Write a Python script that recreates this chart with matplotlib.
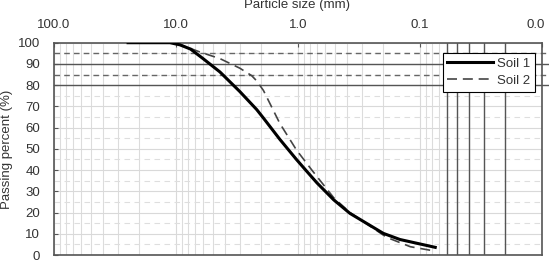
import numpy as np
import matplotlib
matplotlib.use("Agg")
import matplotlib.pyplot as plt
import matplotlib.transforms as mtransforms
from matplotlib.ticker import LogLocator, NullFormatter

# data (particle size in mm, passing %)
size_1 = [24.7, 11.2, 9.3, 7.6, 6.0, 4.36, 3.0, 2.18, 1.92, 1.41, 1.03, 0.85, 0.70, 0.51, 0.375, 0.2, 0.146, 0.075]
pass_1 = [100, 100, 99, 97, 92.5, 86.2, 77, 68.5, 64.5, 54.5, 45, 39.5, 34, 26, 19.6, 10.2, 7.3, 3.6]

size_2 = [24.7, 11.2, 9.3, 6.36, 4.36, 3.0, 2.4, 2.18, 1.92, 1.41, 1.03, 0.77, 0.51, 0.375, 0.2, 0.178, 0.12, 0.078]
pass_2 = [100, 100, 99.2, 95.6, 92.5, 88, 84.5, 82, 77.5, 62, 49.5, 40, 27, 20, 9.4, 7.8, 3.9, 2.0]

x_major = [100, 10, 1, 0.1, 0.01]
x_labels = ["100.0", "10.0", "1.0", "0.1", "0.0"]
y_ticks = np.arange(0, 101, 10)

h_solid = [80, 90]       # dark reference lines
h_dashed = [85, 95]
v_dark = [0.06, 0.05, 0.04, 0.03, 0.02]

plt.rcParams['font.family'] = ['Liberation Sans', 'DejaVu Sans']
txt = '#333333'
fs = 9.5

fig = plt.figure(figsize=(5.49, 2.63), dpi=100)
ax = fig.add_axes([54/549, 1-255/263, 488/549, 212.3/263])

ax.set_xscale('log')
ax.set_xlim(100, 0.01)
ax.set_ylim(0, 100)

# light grid
ax.xaxis.set_minor_locator(LogLocator(base=10, subs=np.arange(2, 10)))
ax.xaxis.set_minor_formatter(NullFormatter())
ax.set_yticks(np.arange(5, 100, 10), minor=True)
ax.grid(True, which='major', axis='both', color='#d9d9d9', lw=0.8, ls='-')
ax.grid(True, which='minor', axis='x', color='#dcdcdc', lw=0.8, ls='-')
ax.grid(True, which='minor', axis='y', color='#dedede', lw=0.8, ls=(0, (5, 4)))
ax.set_axisbelow(True)

# dark reference lines
for v in h_solid:
    ax.axhline(v, xmin=0, xmax=1.012, color='#555555', lw=1.0, clip_on=False, zorder=2)
for v in h_dashed:
    ax.axhline(v, xmin=0, xmax=1.012, color='#666666', lw=1.0, ls=(0, (4, 3)), clip_on=False, zorder=2)
for v in v_dark:
    ax.axvline(v, color='#555555', lw=1.0, zorder=2)

ax.plot(size_1, pass_1, color='black', lw=2.2, label='Soil 1', zorder=4,
        solid_joinstyle='round')
ax.plot(size_2, pass_2, color='#444444', lw=1.2, ls=(0, (6, 3.5)), label='Soil 2', zorder=3)

ax.xaxis.tick_top()
ax.set_xticks(x_major)
ax.set_xticklabels(x_labels)
ax.set_yticks(y_ticks)
ax.tick_params(axis='x', which='major', direction='in', length=3, pad=8.5,
               labelsize=fs, labelcolor=txt, color='#555555')
ax.tick_params(axis='x', which='minor', length=0)
ax.tick_params(axis='y', which='major', direction='in', length=3, pad=10,
               labelsize=fs, labelcolor=txt, color='#555555')
ax.tick_params(axis='y', which='minor', length=0)

# keep the last top label inside the picture
last = ax.get_xticklabels()[-1]
last.set_transform(last.get_transform() +
                   mtransforms.ScaledTranslation(-6/100, 0, fig.dpi_scale_trans))

for s in ax.spines.values():
    s.set_color('#555555')
    s.set_linewidth(1.2)

leg = ax.legend(loc='upper right', bbox_to_anchor=(0.986, 0.953), borderaxespad=0,
                fancybox=False, framealpha=1, edgecolor='black', fontsize=fs,
                handlelength=3.5, handletextpad=0.3, labelspacing=0.4,
                borderpad=0.35)
leg.get_frame().set_linewidth(0.8)
for t in leg.get_texts():
    t.set_color(txt)

fig.text(297/549, 1-5/263, 'Particle size (mm)', ha='center', va='center',
         fontsize=fs, color=txt)
fig.text(7/549, 1-149/263, 'Passing percent (%)', ha='center', va='center',
         rotation=90, fontsize=fs, color=txt)

fig.savefig('out.png', dpi=100)
